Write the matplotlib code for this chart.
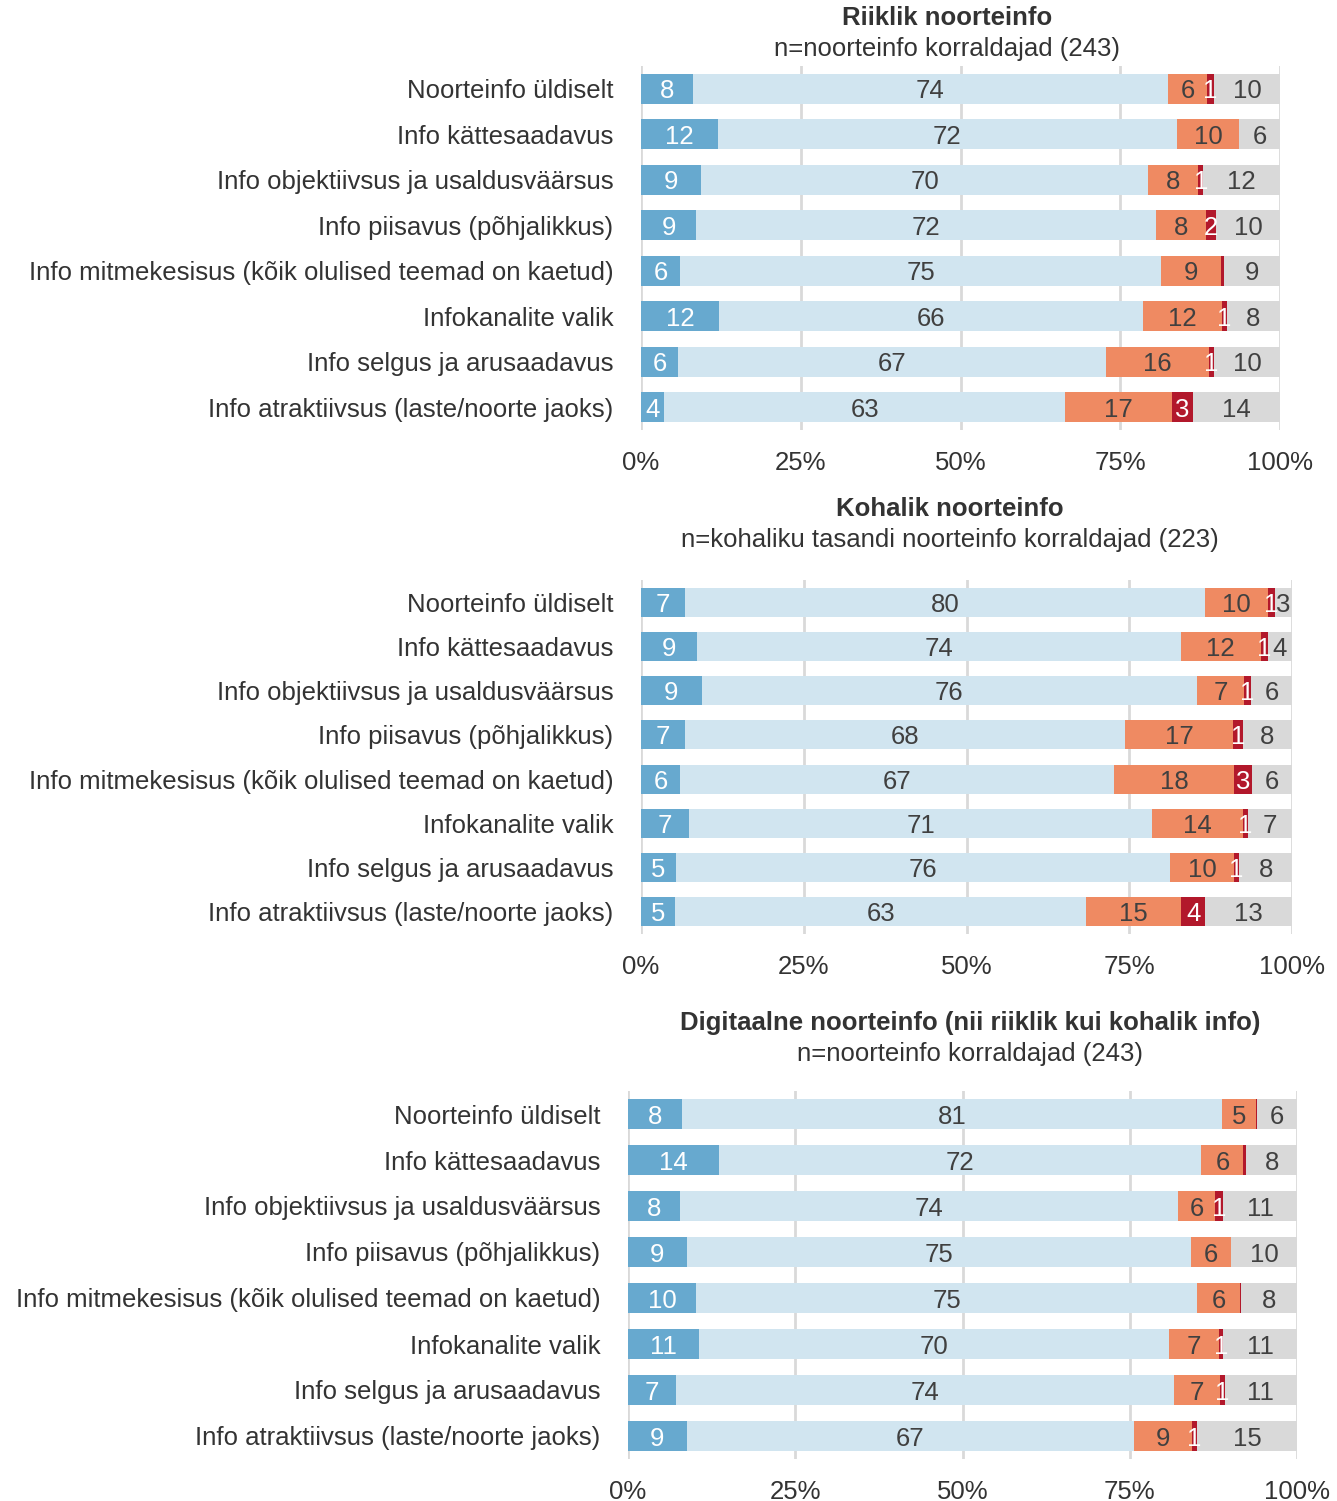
import matplotlib.pyplot as plt
import numpy as np

plt.rcParams['font.family'] = ['Liberation Sans', 'DejaVu Sans']

categories = ['Noorteinfo üldiselt', 'Info kättesaadavus',
              'Info objektiivsus ja usaldusväärsus', 'Info piisavus (põhjalikkus)',
              'Info mitmekesisus (kõik olulised teemad on kaetud)', 'Infokanalite valik',
              'Info selgus ja arusaadavus', 'Info atraktiivsus (laste/noorte jaoks)']

# riiklik noorteinfo
riik_vh = [8.1, 12.0, 9.4, 8.6, 6.1, 12.2, 5.8, 3.6]
riik_h = [74.4, 71.9, 70.0, 72.0, 75.3, 66.4, 67.0, 62.8]
riik_k = [6.1, 9.7, 7.8, 7.8, 9.4, 12.3, 16.1, 16.7]
riik_vk = [1.1, 0.0, 0.8, 1.6, 0.4, 0.8, 0.8, 3.3]
riik_eos = [10.3, 6.4, 12.0, 10.0, 8.8, 8.3, 10.3, 13.6]

# kohalik noorteinfo
koh_vh = [6.8, 8.6, 9.3, 6.8, 6.0, 7.4, 5.4, 5.2]
koh_h = [79.8, 74.3, 76.1, 67.6, 66.7, 71.1, 75.9, 63.2]
koh_k = [9.7, 12.3, 7.2, 16.6, 18.4, 14.0, 9.8, 14.6]
koh_vk = [1.1, 1.1, 1.1, 1.4, 2.8, 0.7, 0.8, 3.7]
koh_eos = [2.6, 3.7, 6.3, 7.6, 6.1, 6.8, 8.1, 13.3]

# digitaalne noorteinfo
dig_vh = [8.1, 13.6, 7.8, 8.8, 10.2, 10.6, 7.2, 8.8]
dig_h = [80.7, 72.1, 74.4, 75.4, 74.9, 70.3, 74.4, 66.8]
dig_k = [5.1, 6.3, 5.6, 5.9, 6.4, 7.4, 6.9, 8.7]
dig_vk = [0.15, 0.4, 1.2, 0.0, 0.15, 0.7, 0.7, 0.8]
dig_eos = [5.95, 7.6, 11.0, 9.9, 8.35, 11.0, 10.8, 14.9]

colors = ['#67a9cf', '#d1e5f0', '#ef8a62', '#b2182b', '#d9d9d9']
txt_colors = ['white', '#404040', '#404040', 'white', '#404040']

W, H = 1337, 1501
FS = 18.5
fig = plt.figure(figsize=(W / 100, H / 100), dpi=100)


def panel(left, right, top, bottom, series, title, subtitle, tx, ty):
    ax = fig.add_axes([left / W, 1 - bottom / H, (right - left) / W, (bottom - top) / H])
    y = np.arange(len(categories))
    start = np.zeros(len(categories))
    for vals, c, tc in zip(series, colors, txt_colors):
        vals = np.array(vals)
        ax.barh(y, vals, left=start, height=0.66, color=c, zorder=2)
        for yi, s, v in zip(y, start, vals):
            if round(v) >= 1:
                ax.text(s + v / 2, yi, str(int(round(v))), ha='center',
                        va='center_baseline', fontsize=FS, color=tc, zorder=3)
        start = start + vals
    ax.set_xlim(0, 100)
    ax.set_ylim(len(categories) - 0.5, -0.5)
    ax.set_yticks(y)
    ax.set_yticklabels(categories, fontsize=FS, color='#333333')
    ax.set_xticks([0, 25, 50, 75, 100])
    ax.set_xticklabels(['0%', '25%', '50%', '75%', '100%'], fontsize=FS, color='#333333')
    ax.tick_params(length=0, axis='y', pad=20)
    ax.tick_params(length=0, axis='x', pad=15)
    ax.grid(axis='x', color='#d9d9d9', linewidth=2, zorder=0)
    for s in ax.spines.values():
        s.set_visible(False)
    fig.text(tx / W, 1 - ty / H, title, ha='center', va='center', fontsize=FS,
             fontweight='bold', color='#333333')
    fig.text(tx / W, 1 - (ty + 31) / H, subtitle, ha='center', va='center', fontsize=FS,
             color='#333333')


panel(641, 1280, 66, 430, [riik_vh, riik_h, riik_k, riik_vk, riik_eos],
      'Riiklik noorteinfo', 'n=noorteinfo korraldajad (243)', 947, 18)
panel(641, 1292, 580, 934, [koh_vh, koh_h, koh_k, koh_vk, koh_eos],
      'Kohalik noorteinfo', 'n=kohaliku tasandi noorteinfo korraldajad (223)', 950, 509)
panel(628, 1297, 1091, 1459, [dig_vh, dig_h, dig_k, dig_vk, dig_eos],
      'Digitaalne noorteinfo (nii riiklik kui kohalik info)', 'n=noorteinfo korraldajad (243)',
      970, 1023)

plt.savefig('out.png', dpi=100)
